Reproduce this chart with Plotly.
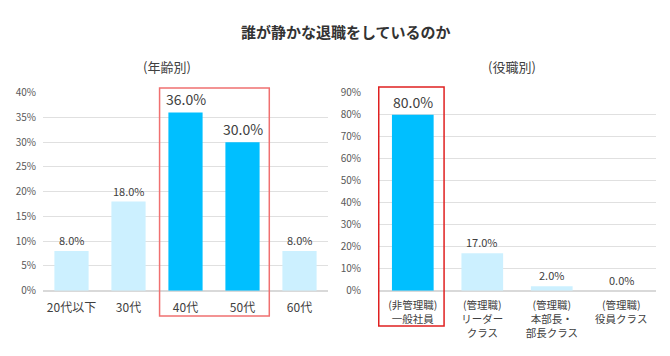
import plotly.graph_objects as go

# Data
age_categories = ["20代以下", "30代", "40代", "50代", "60代"]
age_values = [8.0, 18.0, 36.0, 30.0, 8.0]
age_highlight = [False, False, True, True, False]

role_categories = ["(非管理職)<br>一般社員", "(管理職)<br>リーダー<br>クラス", "(管理職)<br>本部長・<br>部長クラス", "(管理職)<br>役員クラス"]
role_values = [80.0, 17.0, 2.0, 0.0]
role_highlight = [True, False, False, False]

age_ticks = [0, 5, 10, 15, 20, 25, 30, 35, 40]
role_ticks = [0, 10, 20, 30, 40, 50, 60, 70, 80, 90]

title_text = "誰が静かな退職をしているのか"
age_subtitle = "(年齢別)"
role_subtitle = "(役職別)"

FONT = "Noto Sans CJK JP"
DARK = "#00bfff"
LIGHT = "#ccf0ff"
TXT = "#404040"
W, H = 670, 356

def colors(hl):
    return [DARK if h else LIGHT for h in hl]

fig = go.Figure()
fig.add_trace(go.Bar(x=age_categories, y=age_values, marker_color=colors(age_highlight),
                     marker_line_width=0, width=0.6, xaxis="x", yaxis="y", hoverinfo="skip"))
fig.add_trace(go.Bar(x=role_categories, y=role_values, marker_color=colors(role_highlight),
                     marker_line_width=0, width=0.6, xaxis="x2", yaxis="y2", hoverinfo="skip"))

annotations = []
for cat, v, h in zip(age_categories, age_values, age_highlight):
    annotations.append(dict(x=cat, y=v, xref="x", yref="y", text=f"{v:.1f}%", showarrow=False,
                            yanchor="middle", yshift=13 if h else 11,
                            font=dict(family=FONT, size=14 if h else 11, color=TXT)))
for cat, v, h in zip(role_categories, role_values, role_highlight):
    annotations.append(dict(x=cat, y=v, xref="x2", yref="y2", text=f"{v:.1f}%", showarrow=False,
                            yanchor="middle", yshift=13 if h else 11,
                            font=dict(family=FONT, size=14 if h else 11, color=TXT)))

annotations.append(dict(x=167 / W, y=1 - 67 / H, xref="paper", yref="paper", text=age_subtitle,
                        showarrow=False, xanchor="center", yanchor="middle",
                        font=dict(family=FONT, size=13, color=TXT)))
annotations.append(dict(x=512 / W, y=1 - 66 / H, xref="paper", yref="paper", text=role_subtitle,
                        showarrow=False, xanchor="center", yanchor="middle",
                        font=dict(family=FONT, size=13, color=TXT)))
annotations.append(dict(x=346 / W, y=1 - 31 / H, xref="paper", yref="paper", text=f"<b>{title_text}</b>",
                        showarrow=False, xanchor="center", yanchor="middle",
                        font=dict(family=FONT, size=15, color="#333333")))

ydom = [(H - 290.7) / H, (H - 92.7) / H]

shapes = [
    dict(type="rect", xref="x", yref="paper", x0=1.545, x1=3.47, y0=1 - 316 / H, y1=1 - 88 / H,
         line=dict(color="#f07070", width=1.5)),
    dict(type="rect", xref="x2", yref="paper", x0=-0.49, x1=0.45, y0=1 - 326 / H, y1=1 - 87 / H,
         line=dict(color="#e02020", width=1.5)),
]

axis_common = dict(showgrid=False, showline=False, ticks="", automargin=False, fixedrange=True)
yaxis_common = dict(showgrid=True, gridcolor="#e0e0e0", gridwidth=1, zeroline=True, zerolinecolor="#d9d9d9",
                    showline=False, ticks="", tickmode="array", automargin=False,
                    tickfont=dict(family=FONT, size=10, color="#595959"),
                    domain=ydom, fixedrange=True)

fig.update_layout(
    width=W, height=H, margin=dict(l=0, r=0, t=0, b=0, autoexpand=False),
    paper_bgcolor="white", plot_bgcolor="white", showlegend=False,
    xaxis=dict(domain=[43 / W, 328 / W], anchor="y", tickfont=dict(family=FONT, size=12, color=TXT),
               ticklabelstandoff=8, **axis_common),
    yaxis=dict(range=[0, 40], tickvals=age_ticks, ticktext=[f"{t}%" for t in age_ticks], anchor="x",
               ticklabelstandoff=6, **yaxis_common),
    xaxis2=dict(domain=[378 / W, 656 / W], anchor="y2", tickfont=dict(family=FONT, size=10.5, color=TXT),
                ticklabelstandoff=7, **axis_common),
    yaxis2=dict(range=[0, 90], tickvals=role_ticks, ticktext=[f"{t}%" for t in role_ticks], anchor="x2",
                ticklabelstandoff=16, **yaxis_common),
    annotations=annotations, shapes=shapes, bargap=0.4,
)

fig.write_html("out.html", config={"displayModeBar": False},
               post_script="document.body.style.margin='0px';")
